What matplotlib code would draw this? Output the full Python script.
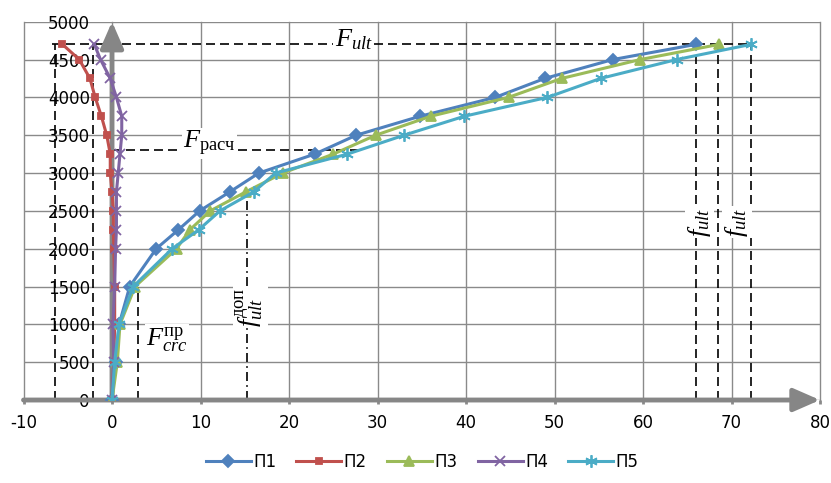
import matplotlib
matplotlib.use("Agg")
import matplotlib.pyplot as plt

plt.rcParams['font.family'] = ['DejaVu Sans']
plt.rcParams['mathtext.fontset'] = 'custom'
plt.rcParams['mathtext.rm'] = 'Liberation Serif'
plt.rcParams['mathtext.it'] = 'Liberation Serif:italic'
plt.rcParams['mathtext.bf'] = 'Liberation Serif:bold'

# load steps, kN
loads = [0, 500, 1000, 1500, 2000, 2250, 2500, 2750, 3000, 3250, 3500, 3750, 4000, 4250, 4500, 4700]

# deflections, mm
p1 = [0, 0.4, 0.8, 2.0, 5.0, 7.5, 9.9, 13.3, 16.6, 22.9, 27.6, 34.8, 43.3, 48.9, 56.6, 66.0]
p2 = [0, 0.2, 0.3, 0.3, 0.2, 0.15, 0.15, 0.0, -0.2, -0.2, -0.6, -1.2, -1.9, -2.5, -3.7, -5.6]
p3 = [0, 0.6, 0.9, 2.6, 7.3, 8.8, 11.1, 15.1, 19.3, 25.0, 29.8, 36.0, 44.8, 50.8, 59.7, 68.6]
p4 = [0, 0.2, 0.1, 0.3, 0.4, 0.5, 0.5, 0.5, 0.7, 0.9, 1.1, 1.1, 0.5, -0.2, -1.3, -2.0]
p5 = [0, 0.3, 0.8, 2.4, 6.8, 9.8, 12.2, 16.0, 18.5, 26.6, 33.0, 39.8, 49.2, 55.2, 63.8, 72.2]

names = ['П1', 'П2', 'П3', 'П4', 'П5']
colors = ['#4F81BD', '#C0504D', '#9BBB59', '#8064A2', '#4BACC6']
markers = ['D', 's', '^', 'x', (6, 2, 0)]
msizes = [6, 5, 7, 7, 9]

# reference levels
F_ult = 4700
F_calc = 3300
F_crc = 1500
f_ult_p1, f_ult_p3, f_ult_p5 = 66.0, 68.5, 72.2
f_ult_p2, f_ult_p4 = -6.4, -2.1
f_crc = 2.9
f_dop, F_dop = 15.2, 2780

fig = plt.figure(figsize=(8.31, 4.83), dpi=100)
ax = fig.add_axes([0.0283, 0.1718, 0.9585, 0.7833])
ax.set_xlim(-10, 80)
ax.set_ylim(0, 5000)
ax.set_xticks(range(-10, 81, 10))
ax.set_yticks(range(0, 5001, 500))

grid_c = '#8A8A8A'
ax.grid(True, color=grid_c, lw=1.0, zorder=0)
ax.set_axisbelow(True)
for gl in ax.get_xgridlines() + ax.get_ygridlines():
    gl.set_clip_on(False)
for s in ['top', 'right', 'bottom']:
    ax.spines[s].set_visible(False)
ax.spines['left'].set_position(('data', 0))
ax.spines['left'].set_visible(False)

ax.tick_params(axis='y', length=0, pad=16, labelsize=12)
ax.tick_params(axis='x', direction='out', length=3, width=2, color=grid_c,
               pad=7, labelsize=12)
ax.xaxis.set_major_formatter(matplotlib.ticker.FuncFormatter(lambda v, p: '%d' % v))

# axes with arrows
arr = dict(arrowstyle='-|>,head_length=1.6,head_width=0.7', lw=3.5,
           color='#868686', mutation_scale=10, shrinkA=0, shrinkB=0)
ax.annotate('', xy=(80, 0), xytext=(-10, 0), arrowprops=arr,
            annotation_clip=False, zorder=1.5)
ax.annotate('', xy=(0, 5000), xytext=(0, 0), arrowprops=arr,
            annotation_clip=False, zorder=1.5)

# dashed construction lines
dash = dict(color='black', lw=1.2, ls=(0, (5.4, 3)), zorder=1)
ax.plot([f_ult_p2 - 0.4, f_ult_p5], [F_ult, F_ult], **dash)
for xv in [f_ult_p2, f_ult_p4, f_ult_p1, f_ult_p3, f_ult_p5]:
    ax.plot([xv, xv], [0, F_ult], **dash)
ax.plot([0, 28], [F_calc, F_calc], **dash)
ax.plot([f_crc, f_crc], [0, F_crc], **dash)
ax.plot([f_dop, f_dop], [0, F_dop], color='black', lw=1.2,
        ls=(0, (5.4, 2.5, 1, 2.5)), zorder=1)

series = [p1, p2, p3, p4, p5]
for i in range(5):
    ax.plot(series[i], loads, color=colors[i], lw=2.2, marker=markers[i],
            ms=msizes[i], mew=1.3, label=names[i], zorder=3)

box = dict(facecolor='white', edgecolor='none', pad=1)
fs = 19
ax.text(27.3, 4760, r'$F_{ult}$', fontsize=fs, ha='center', va='center', bbox=box, zorder=4)
ax.text(11.0, 3390, r'$F_{\mathrm{расч}}$', fontsize=fs, ha='center', va='center', bbox=box, zorder=4)
ax.text(6.2, 800, r'$F_{crc}^{\mathrm{пр}}$', fontsize=fs, ha='center', va='center', bbox=box, zorder=4)
ax.text(15.6, 1230, r'$f_{ult}^{\mathrm{доп}}$', fontsize=fs, rotation=90,
        ha='center', va='center', bbox=box, zorder=4)
ax.text(66.4, 2350, r'$f_{ult}$', fontsize=fs, rotation=90, ha='center', va='center', bbox=box, zorder=4)
ax.text(70.6, 2350, r'$f_{ult}$', fontsize=fs, rotation=90, ha='center', va='center', bbox=box, zorder=4)

fig.legend(loc='center', bbox_to_anchor=(0.508, 0.0435), ncol=5, frameon=False,
           fontsize=12, handlelength=2.7, handletextpad=0.15, columnspacing=1.2)

fig.savefig('out.png', dpi=100)
